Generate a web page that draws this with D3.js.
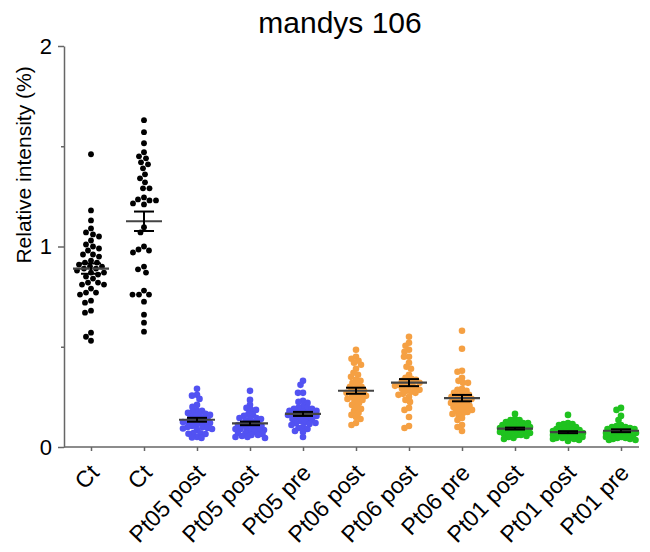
<!DOCTYPE html>
<html>
<head>
<meta charset="utf-8">
<script src="https://cdn.jsdelivr.net/npm/d3@7"></script>
<style>
  body { margin: 0; background: #fff; }
  text { font-family: "Liberation Sans", Arial, sans-serif; }
</style>
</head>
<body>
<svg id="chart" width="650" height="552"></svg>
<script>
// group labels along the x axis
var labels = ["Ct", "Ct", "Pt05 post", "Pt05 post", "Pt05 pre", "Pt06 post", "Pt06 post", "Pt06 pre", "Pt01 post", "Pt01 post", "Pt01 pre"];
var groupColors = ["#000000", "#000000", "#5252f2", "#5252f2", "#5252f2", "#f5a043", "#f5a043", "#f5a043", "#1fc21f", "#1fc21f", "#1fc21f"];

// relative intensity values
var ct1 = [1.46, 1.18, 1.13, 1.09, 1.07, 1.06, 1.05, 1.03, 1.01, 1.0, 0.99, 0.98, 0.96, 0.95, 0.96, 0.93, 0.92, 0.91, 0.92, 0.90, 0.89, 0.89, 0.9, 0.88, 0.87, 0.87, 0.85, 0.86, 0.84, 0.81, 0.82, 0.81, 0.82, 0.79, 0.76, 0.77, 0.77, 0.72, 0.73, 0.68, 0.67, 0.57, 0.53, 0.55];
var ct2 = [1.63, 1.57, 1.515, 1.47, 1.44, 1.45, 1.42, 1.39, 1.41, 1.36, 1.34, 1.32, 1.29, 1.29, 1.23, 1.245, 1.21, 1.235, 1.215, 1.23, 1.096, 1.07, 1.0, 0.98, 0.97, 0.985, 0.90, 0.87, 0.886, 0.78, 0.76, 0.76, 0.76, 0.725, 0.66, 0.62, 0.575];
var pt05post1 = [0.29, 0.26, 0.256, 0.24, 0.21, 0.20, 0.18, 0.18, 0.175, 0.17, 0.16, 0.165, 0.16, 0.155, 0.15, 0.14, 0.145, 0.135, 0.13, 0.125, 0.12, 0.118, 0.126, 0.12, 0.11, 0.105, 0.10, 0.095, 0.098, 0.092, 0.09, 0.085, 0.07, 0.068, 0.066, 0.065, 0.05, 0.048, 0.045];
var pt05post2 = [0.28, 0.235, 0.21, 0.195, 0.185, 0.185, 0.165, 0.16, 0.155, 0.145, 0.145, 0.14, 0.14, 0.13, 0.125, 0.12, 0.115, 0.11, 0.11, 0.105, 0.10, 0.10, 0.095, 0.09, 0.09, 0.085, 0.08, 0.08, 0.075, 0.07, 0.07, 0.065, 0.06, 0.06, 0.055, 0.05, 0.05, 0.045];
var pt05pre = [0.33, 0.31, 0.27, 0.27, 0.23, 0.225, 0.22, 0.2, 0.195, 0.195, 0.19, 0.19, 0.18, 0.18, 0.175, 0.17, 0.17, 0.165, 0.16, 0.16, 0.155, 0.15, 0.15, 0.145, 0.14, 0.135, 0.13, 0.125, 0.12, 0.12, 0.115, 0.11, 0.1, 0.095, 0.09, 0.08, 0.075, 0.05];
var pt06post1 = [0.485, 0.45, 0.44, 0.43, 0.42, 0.41, 0.39, 0.37, 0.36, 0.35, 0.335, 0.33, 0.32, 0.31, 0.30, 0.30, 0.29, 0.28, 0.28, 0.275, 0.27, 0.265, 0.26, 0.255, 0.25, 0.245, 0.24, 0.235, 0.23, 0.22, 0.21, 0.2, 0.19, 0.18, 0.17, 0.16, 0.15, 0.14, 0.12, 0.11];
var pt06post2 = [0.55, 0.52, 0.505, 0.485, 0.475, 0.45, 0.45, 0.42, 0.40, 0.39, 0.36, 0.345, 0.34, 0.335, 0.33, 0.325, 0.32, 0.315, 0.31, 0.31, 0.305, 0.30, 0.295, 0.29, 0.285, 0.28, 0.275, 0.27, 0.265, 0.26, 0.25, 0.235, 0.225, 0.195, 0.185, 0.15, 0.105, 0.095];
var pt06pre = [0.58, 0.49, 0.38, 0.375, 0.345, 0.33, 0.32, 0.32, 0.29, 0.285, 0.28, 0.27, 0.265, 0.26, 0.255, 0.25, 0.245, 0.24, 0.235, 0.23, 0.225, 0.22, 0.215, 0.21, 0.205, 0.2, 0.195, 0.19, 0.185, 0.18, 0.175, 0.17, 0.165, 0.16, 0.145, 0.135, 0.11, 0.1, 0.08];
var pt01post1 = [0.165, 0.14, 0.135, 0.135, 0.125, 0.12, 0.12, 0.115, 0.11, 0.11, 0.105, 0.1, 0.1, 0.1, 0.095, 0.095, 0.09, 0.09, 0.09, 0.085, 0.085, 0.08, 0.08, 0.08, 0.075, 0.075, 0.07, 0.07, 0.065, 0.06, 0.06, 0.055, 0.05, 0.045, 0.04];
var pt01post2 = [0.16, 0.12, 0.115, 0.115, 0.11, 0.1, 0.095, 0.09, 0.09, 0.085, 0.085, 0.08, 0.08, 0.075, 0.075, 0.07, 0.07, 0.07, 0.065, 0.065, 0.06, 0.06, 0.06, 0.055, 0.055, 0.05, 0.05, 0.045, 0.045, 0.04, 0.04, 0.035, 0.03];
var pt01pre = [0.195, 0.185, 0.155, 0.135, 0.11, 0.105, 0.1, 0.1, 0.095, 0.09, 0.09, 0.085, 0.08, 0.08, 0.075, 0.075, 0.07, 0.07, 0.065, 0.065, 0.06, 0.06, 0.055, 0.055, 0.05, 0.05, 0.045, 0.045, 0.04, 0.04, 0.035, 0.035];

var groups = [ct1, ct2, pt05post1, pt05post2, pt05pre, pt06post1, pt06post2, pt06pre, pt01post1, pt01post2, pt01pre];

var yTicks = [0, 1, 2];
var yMinorTicks = [0.5, 1.5];

var svg = d3.select("#chart");
svg.append("rect").attr("width", 650).attr("height", 552).attr("fill", "#fff");

var x = d3.scalePoint().domain(d3.range(labels.length)).range([91, 621]);
var y = d3.scaleLinear().domain([0, 2]).range([447, 46]);

// title
svg.append("text")
  .attr("x", 340).attr("y", 33)
  .attr("text-anchor", "middle")
  .style("font-size", "30px")
  .text("mandys 106");

// y axis
var yAxis = svg.append("g").attr("transform", "translate(64,0)")
  .call(d3.axisLeft(y).tickValues(yTicks).tickSize(6).tickSizeOuter(0).tickPadding(6).tickFormat(d3.format("d")));
svg.append("g").attr("transform", "translate(64,0)")
  .call(d3.axisLeft(y).tickValues(yMinorTicks).tickSize(3).tickFormat(""))
  .select(".domain").remove();
yAxis.selectAll("text").style("font-size", "22px").attr("fill", "#000");

svg.append("text")
  .attr("transform", "translate(31,165) rotate(-90)")
  .attr("text-anchor", "middle")
  .style("font-size", "21px")
  .text("Relative intensity (%)");

// x axis
var xAxis = svg.append("g").attr("transform", "translate(0,447)")
  .call(d3.axisBottom(x).tickSize(4).tickFormat(function(i){ return labels[i]; }));
xAxis.select(".domain").remove();
xAxis.selectAll("text")
  .style("font-size", "23px")
  .attr("fill", "#000")
  .attr("text-anchor", "end")
  .attr("dy", null)
  .attr("y", 0)
  .attr("transform", "translate(9,27) rotate(-46)");
svg.append("line")
  .attr("x1", 64).attr("x2", 639)
  .attr("y1", 447).attr("y2", 447);

svg.selectAll(".domain, .tick line, line")
  .attr("stroke", "#666")
  .attr("stroke-width", 1.5);

// beeswarm: push each dot sideways until it clears the ones already placed,
// within a max half-width; if nothing fits, take the least crowded spot
function swarm(vals, minD, maxW) {
  var pts = vals.slice().sort(function(a, b){ return b - a; }).map(function(v){ return { v: v, py: y(v), dx: 0 }; });
  var placed = [];
  pts.forEach(function(p) {
    var best = 0, bestD = -1;
    for (var k = 0; k <= maxW * 4; k++) {
      var off = (k % 2 === 0 ? 1 : -1) * Math.ceil(k / 2) * 0.5;
      var dmin = Infinity;
      placed.forEach(function(q) {
        var ddx = q.dx - off, ddy = q.py - p.py;
        dmin = Math.min(dmin, Math.sqrt(ddx * ddx + ddy * ddy));
      });
      if (dmin >= minD) { best = off; bestD = dmin; break; }
      if (dmin > bestD) { bestD = dmin; best = off; }
    }
    p.dx = best;
    placed.push(p);
  });
  return pts;
}

groups.forEach(function(vals, i) {
  var r = i < 2 ? 2.9 : 3.3;
  var pts = i < 2 ? swarm(vals, 6.2, 14) : swarm(vals, 4.6, 15);
  var g = svg.append("g");
  g.selectAll("circle")
    .data(pts)
    .enter().append("circle")
    .attr("cx", function(d){ return x(i) + d.dx; })
    .attr("cy", function(d){ return d.py; })
    .attr("r", r)
    .attr("fill", groupColors[i]);

  var mean = d3.mean(vals);
  var sem = d3.deviation(vals) / Math.sqrt(vals.length);
  var cx = x(i);
  g.append("line")
    .attr("x1", cx - 18).attr("x2", cx + 18)
    .attr("y1", y(mean)).attr("y2", y(mean))
    .attr("stroke", "#444").attr("stroke-width", 2.2);
  g.append("line")
    .attr("x1", cx).attr("x2", cx)
    .attr("y1", y(mean - sem)).attr("y2", y(mean + sem))
    .attr("stroke", "#000").attr("stroke-width", 2);
  [mean - sem, mean + sem].forEach(function(v) {
    g.append("line")
      .attr("x1", cx - 10).attr("x2", cx + 10)
      .attr("y1", y(v)).attr("y2", y(v))
      .attr("stroke", "#000").attr("stroke-width", 2);
  });
});
</script>
</body>
</html>
